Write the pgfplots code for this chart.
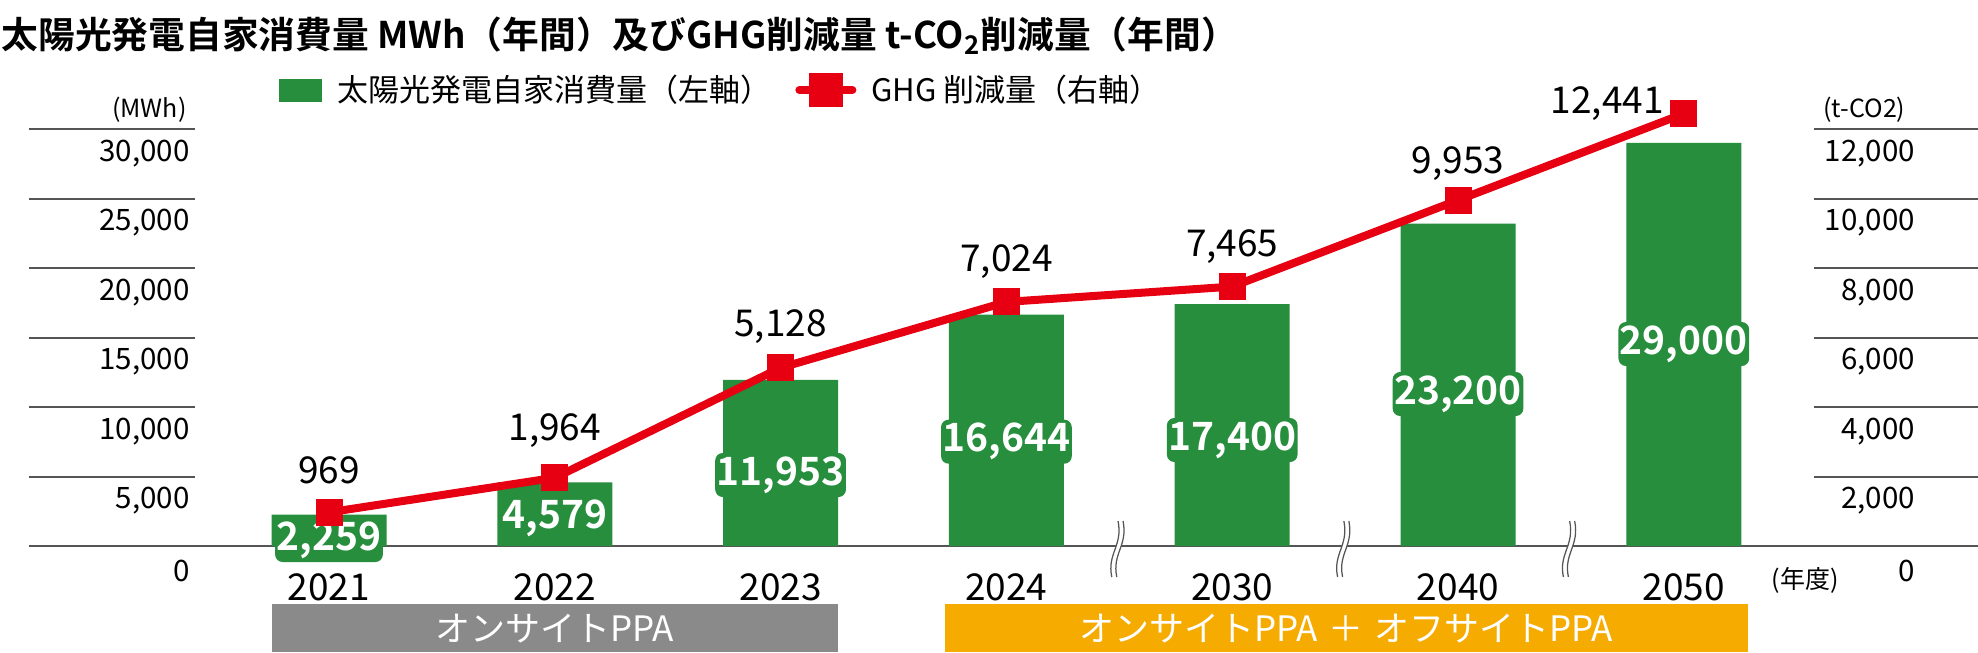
\documentclass[border=0pt]{standalone}
\usepackage{pgfplots}
\pgfplotsset{compat=1.18}
\usepackage{pgfplotstable}
\usepackage{fontspec}
\setmainfont{Noto Sans CJK JP}[BoldFont={Noto Sans CJK JP Bold}]

\definecolor{barGreen}{RGB}{38,142,60}
\definecolor{ghgRed}{RGB}{230,0,18}
\definecolor{gridGray}{RGB}{85,85,85}
\definecolor{boxGray}{RGB}{138,138,138}
\definecolor{boxOrange}{RGB}{245,171,0}

% solar self consumption, MWh (left axis)
\pgfplotstableread{
x mwh
0 2259
1 4579
2 11953
3 16644
4 17400
5 23200
6 29000
}\mwhdata

% GHG reduction, t-CO2 (right axis)
\pgfplotstableread{
x ghg
0 969
1 1964
2 5128
3 7024
4 7465
5 9953
6 12441
}\ghgdata

\pgfplotsset{
  bar legend/.style={legend image code/.code={\fill[barGreen] (0pt,-4.4pt) rectangle (16.8pt,4.4pt);}},
  ghg legend/.style={legend image code/.code={%
    \draw[ghgRed, line width=3.2pt, line cap=round] (0pt,0pt) -- (21.2pt,0pt);
    \fill[ghgRed] (5.4pt,-5.2pt) rectangle (15.8pt,5.2pt);}},
}

% wavy break mark on the base line
\newcommand{\breakmark}[1]{%
  \begin{scope}[shift={(axis cs:#1,0)}]
    \fill[white] (-0.5pt,10pt) .. controls (1.5pt,0pt) and (-5pt,-3pt) .. (-3pt,-12.4pt)
      -- (-1pt,-12.4pt) .. controls (-3pt,-3pt) and (3.5pt,0pt) .. (1.5pt,10pt) -- cycle;
    \draw[gridGray, line width=0.5pt] (-0.5pt,10pt) .. controls (1.5pt,0pt) and (-5pt,-3pt) .. (-3pt,-12.4pt);
    \draw[gridGray, line width=0.5pt] (1.5pt,10pt) .. controls (3.5pt,0pt) and (-3pt,-3pt) .. (-1pt,-12.4pt);
  \end{scope}}

\begin{document}
\begin{tikzpicture}

% bars, left axis
\begin{axis}[
  at={(11.6pt,42.4pt)}, anchor=south west,
  scale only axis, width=779.6pt, height=194.6pt,
  xmin=-1.3286, xmax=7.3029, ymin=0, ymax=35000,
  clip=false,
  axis line style={draw=none}, tick style={draw=none},
  ybar, bar width=46pt,
  xtick={0,...,6},
  xticklabels={2021,2022,2023,2024,2030,2040,2050},
  xticklabel style={anchor=center, inner sep=0pt, yshift=-12.3pt, font=\fontsize{14.8}{16}\selectfont},
  ytick={0,5000,...,30000},
  scaled y ticks=false,
  /pgf/number format/1000 sep={,},
  /pgf/number format/assume math mode=true,
  yticklabel style={anchor=east, inner sep=0pt, xshift=64.4pt, yshift=-9.8pt, font=\fontsize{11.8}{13}\selectfont},
]
\pgfplotsinvokeforeach{5000,10000,15000,20000,25000,30000}{
  \draw[gridGray, line width=0.8pt] (axis cs:-1.3286,#1) -- (axis cs:-0.5934,#1);
  \draw[gridGray, line width=0.8pt] (axis cs:6.5766,#1) -- (axis cs:7.3029,#1);
}
\draw[gridGray, line width=0.8pt] (axis cs:-1.3286,0) -- (axis cs:7.3029,0);

\addplot[fill=barGreen, draw=none] table[x=x, y=mwh] {\mwhdata};

\breakmark{3.5}
\breakmark{4.5}
\breakmark{5.5}

\begin{scope}[every node/.style={text=white, fill=barGreen, rounded corners=3pt,
    font=\bfseries\fontsize{15.6}{18}\selectfont, inner xsep=0.6pt, inner ysep=1.4pt}]
  \node at (axis cs:0,432)   {2,259};
  \node at (axis cs:1,1993)  {4,579};
  \node at (axis cs:2,5108)  {11,953};
  \node at (axis cs:3,7504)  {16,644};
  \node at (axis cs:4,7626)  {17,400};
  \node at (axis cs:5,10935) {23,200};
  \node at (axis cs:6,14532) {29,000};
\end{scope}
\end{axis}

% GHG line, right axis
\begin{axis}[
  at={(11.6pt,42.4pt)}, anchor=south west,
  scale only axis, width=779.6pt, height=194.6pt,
  xmin=-1.3286, xmax=7.3029, ymin=0, ymax=14000,
  clip=false,
  axis line style={draw=none}, tick style={draw=none},
  xtick=\empty,
  ytick={0,2000,...,12000},
  yticklabel pos=right,
  scaled y ticks=false,
  /pgf/number format/1000 sep={,},
  /pgf/number format/assume math mode=true,
  yticklabel style={anchor=east, inner sep=0pt, xshift=-25pt, yshift=-9.8pt, font=\fontsize{11.8}{13}\selectfont},
  legend columns=2,
  legend cell align=left,
  legend style={at={(0.1282,0.9373)}, anchor=west, draw=none, fill=none,
    inner sep=0pt, font=\fontsize{12.4}{14}\selectfont,
    /tikz/every odd column/.append style={column sep=4pt},
    /tikz/every even column/.append style={column sep=7.6pt}},
]
\addlegendimage{bar legend}
\addlegendentry{太陽光発電自家消費量（左軸）}

\addplot[ghgRed, line width=3.2pt, mark=square*, mark size=5.2pt,
  mark options={line width=0pt, fill=ghgRed, draw=ghgRed}, ghg legend]
  table[x=x, y=ghg] {\ghgdata};
\addlegendentry{GHG 削減量（右軸）}

\begin{scope}[every node/.style={font=\fontsize{14.8}{16}\selectfont, inner sep=0pt}]
  \node[yshift=16.8pt] at (axis cs:0,969)  {969};
  \node[yshift=18.8pt] at (axis cs:1,1964) {1,964};
  \node[yshift=16.4pt] at (axis cs:2,5128) {5,128};
  \node[yshift=16pt]   at (axis cs:3,7024) {7,024};
  \node[yshift=16pt]   at (axis cs:4,7465) {7,465};
  \node[yshift=14.8pt] at (axis cs:5,9953) {9,953};
  \node[anchor=east, xshift=-7.8pt, yshift=4pt] at (axis cs:6,12441) {12,441};
\end{scope}
\end{axis}

% title, units and PPA boxes
\node[anchor=west, inner sep=0pt, font=\bfseries\fontsize{14.7}{16}\selectfont]
  at (0.4pt,246.6pt) {太陽光発電自家消費量 MWh（年間）及びGHG削減量 t-CO\textsubscript{2}削減量（年間）};
\node[anchor=east, inner sep=0pt, font=\fontsize{10}{12}\selectfont] at (74.8pt,216.8pt) {(MWh)};
\node[anchor=west, inner sep=0pt, font=\fontsize{10}{12}\selectfont] at (729.2pt,216.8pt) {(t-CO2)};
\node[inner sep=0pt, font=\fontsize{10}{12}\selectfont] at (722pt,28.5pt) {(年度)};

\fill[boxGray] (108.6pt,0pt) rectangle (335pt,19.1pt);
\node[text=white, inner sep=0pt, font=\fontsize{14}{15}\selectfont] at (221.8pt,9.5pt) {オンサイトPPA};
\fill[boxOrange] (377.8pt,0pt) rectangle (699pt,19.1pt);
\node[text=white, inner sep=0pt, font=\fontsize{14}{15}\selectfont] at (538.4pt,9.5pt)
  {オンサイトPPA\hspace{0.3em}＋\hspace{0.3em}オフサイトPPA};

\pgfresetboundingbox
\path[use as bounding box] (0pt,0pt) rectangle (791.2pt,260.8pt);
\end{tikzpicture}
\end{document}
